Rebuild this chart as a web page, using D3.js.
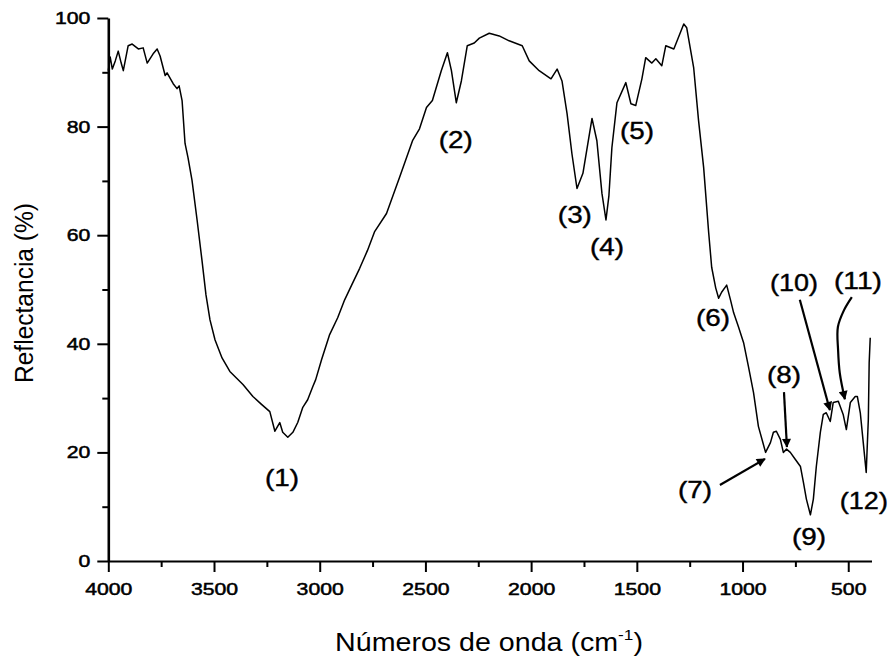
<!DOCTYPE html>
<html>
<head>
<meta charset="utf-8">
<script src="https://cdn.jsdelivr.net/npm/d3@7"></script>
<style>
  body { margin: 0; background: #fff; }
  svg text { font-family: "Liberation Sans", Arial, sans-serif; fill: #000; }
</style>
</head>
<body>
<svg id="chart" width="893" height="662"></svg>
<script>
// Spectre IR
const wavenumbers = [4000,3991,3981,3967,3953,3939,3929,3906,3887,3858,
    3835,3816,3788,3769,3755,3731,3722,3693,3675,3665,
    3651,3637,3623,3604,3580,3557,3538,3519,3495,3462,
    3425,3363,3316,3274,3236,3212,3189,3175,3151,3127,
    3104,3080,3057,3033,3019,2991,2953,2915,2882,2849,
    2811,2774,2741,2684,2623,2561,2528,2495,2467,2425,
    2396,2377,2354,2330,2302,2269,2245,2198,2151,2104,
    2042,2009,1962,1906,1877,1854,1830,1807,1783,1755,
    1712,1689,1665,1646,1632,1618,1594,1552,1528,1505,
    1476,1458,1429,1410,1382,1363,1325,1278,1264,1231,
    1208,1184,1160,1146,1127,1113,1099,1075,1057,1042,
    1019,995,972,948,925,891,868,854,840,821,
    807,792,774,750,726,712,698,679,665,651,
    632,618,604,585,571,547,524,509,490,467,
    457,443,429,415,405,401,396]
const reflectance = [90.3,92.8,90.6,92.1,93.9,91.7,90.3,94.9,95.2,94.3,
    94.5,91.7,93.4,94.3,93.0,89.4,89.9,87.9,87.0,87.5,
    84.8,76.9,74.3,70.1,62.8,55.4,49.0,44.4,40.7,37.4,
    34.9,32.5,30.3,28.8,27.5,23.9,25.5,23.7,22.8,23.7,
    25.5,28.3,29.7,32.1,33.4,37.1,41.7,44.8,48.1,50.8,
    53.9,57.2,60.6,64.0,70.6,77.4,79.6,83.5,84.8,90.3,
    93.6,90.3,84.4,88.4,94.9,95.4,96.3,97.2,96.7,95.8,
    94.9,92.1,90.3,88.8,90.6,88.4,82.4,75.0,68.6,71.4,
    81.5,77.4,67.7,62.8,67.3,76.1,84.4,88.1,84.2,83.9,
    88.8,92.7,91.7,92.5,91.2,94.9,94.3,98.9,98.2,90.8,
    81.1,72.5,60.4,54.1,50.3,48.4,49.5,50.8,48.1,45.7,
    43.1,40.2,35.8,31.0,24.8,20.0,21.8,23.7,23.9,22.4,
    20.0,20.6,20.0,18.7,17.4,14.5,11.4,8.5,11.4,17.4,
    23.7,27.0,27.3,25.7,29.2,29.4,27.0,24.2,29.2,30.3,
    30.3,27.3,21.8,16.3,26.1,36.5,41.1]

// Graduations
const xTicks = [4000, 3500, 3000, 2500, 2000, 1500, 1000, 500]
const xMinor = [3750, 3250, 2750, 2250, 1750, 1250, 750]
const yTicks = [0, 20, 40, 60, 80, 100]
const yMinor = [10, 30, 50, 70, 90]

// Etiquettes des bandes (position en cm-1 / %)
const peakNames = ["(1)", "(2)", "(3)", "(4)", "(5)", "(6)", "(7)", "(8)", "(9)", "(10)", "(11)", "(12)"]
const peakWn = [3178, 2356, 1793, 1641, 1499, 1140, 1225, 804, 686, 756, 454, 426]
const peakR = [14.9, 77.3, 63.4, 57.5, 78.8, 44.4, 12.7, 33.9, 4.1, 50.8, 51.2, 10.7]

// Flèches
const arrow7 = [[1107, 14.0], [894, 18.8]]
const arrow8 = [[804, 31.1], [790, 21.0]]
const arrow10 = [[729, 48.1], [587, 27.8]]
const arrow11 = [[483, 48.6], [520, 46.2], [549, 43.1], [548, 38.8], [540, 34.6], [516, 29.8]]

const svg = d3.select("#chart")

const x = d3.scaleLinear()
    .domain([4000, 390])
    .range([108.3, 871.5])
const y = d3.scaleLinear()
    .domain([0, 100])
    .range([561, 18])

const font = "Liberation Sans, Arial, sans-serif"

// fleche
svg.append("defs").append("marker")
    .attr("id", "head")
    .attr("viewBox", "0 0 10 10")
    .attr("refX", 9)
    .attr("refY", 5)
    .attr("markerUnits", "userSpaceOnUse")
    .attr("markerWidth", 13)
    .attr("markerHeight", 9)
    .attr("orient", "auto")
    .append("path")
    .attr("d", "M0,0 L10,5 L0,10 z")
    .attr("fill", "black")

// Axes : petites graduations
svg.append("g")
    .attr("transform", `translate(0,${y(0)})`)
    .call(d3.axisBottom(x).tickValues(xMinor).tickSize(6).tickSizeOuter(0).tickFormat(""))
    .call(g => g.select(".domain").remove())
    .selectAll("line").attr("stroke-width", 2)

svg.append("g")
    .attr("transform", `translate(${x(4000)},0)`)
    .call(d3.axisLeft(y).tickValues(yMinor).tickSize(6).tickSizeOuter(0).tickFormat(""))
    .call(g => g.select(".domain").remove())
    .selectAll("line").attr("stroke-width", 2)

// Axe X
const xAxis = svg.append("g")
    .attr("transform", `translate(0,${y(0)})`)
    .call(d3.axisBottom(x).tickValues(xTicks).tickSize(11).tickSizeOuter(0).tickPadding(11).tickFormat(d3.format("d")))
    .attr("font-size", 17)
    .attr("font-family", font)
xAxis.select(".domain").attr("stroke-width", 2.2)
xAxis.selectAll("line").attr("stroke-width", 2)
xAxis.selectAll("text")
    .attr("textLength", d => String(d).length * 11.8)
    .attr("lengthAdjust", "spacingAndGlyphs")
    .attr("stroke", "black")
    .attr("stroke-width", 0.5)

// Axe Y
const yAxis = svg.append("g")
    .attr("transform", `translate(${x(4000)},0)`)
    .call(d3.axisLeft(y).tickValues(yTicks).tickSize(11).tickSizeOuter(0).tickPadding(7).tickFormat(d3.format("d")))
    .attr("font-size", 17)
    .attr("font-family", font)
yAxis.select(".domain").attr("stroke-width", 2.6)
yAxis.selectAll("line").attr("stroke-width", 2)
yAxis.selectAll("text")
    .attr("textLength", d => String(d).length * 11.8)
    .attr("lengthAdjust", "spacingAndGlyphs")
    .attr("stroke", "black")
    .attr("stroke-width", 0.5)

// Titres des axes
const xTitle = svg.append("g")
const xText = xTitle.append("text")
    .attr("text-anchor", "middle")
    .attr("font-size", 25)
xText.append("tspan").text("Números de onda (cm")
xText.append("tspan").attr("font-size", 15).attr("dy", -11).text("-1")
xText.append("tspan").attr("dy", 11).text(")")
const xw = xText.node().getBBox().width
xTitle.attr("transform", `translate(489,651) scale(${308 / xw},1)`)

svg.append("text")
    .attr("transform", "translate(32.5,293) rotate(-90)")
    .attr("text-anchor", "middle")
    .attr("font-size", 25)
    .attr("textLength", 180)
    .attr("lengthAdjust", "spacingAndGlyphs")
    .text("Reflectancia (%)")

// Spectre
const line = d3.line()
    .x((d, i) => x(wavenumbers[i]))
    .y((d, i) => y(reflectance[i]))

svg.append("path")
    .datum(reflectance)
    .attr("d", line)
    .attr("fill", "none")
    .attr("stroke", "black")
    .attr("stroke-width", 1.5)
    .attr("stroke-linejoin", "round")

// Flèches
const arrowLine = d3.line()
    .x(d => x(d[0]))
    .y(d => y(d[1]))

const arrowLineCurved = d3.line()
    .x(d => x(d[0]))
    .y(d => y(d[1]))
    .curve(d3.curveCatmullRom)

;[arrow7, arrow8, arrow10].forEach(a => {
    svg.append("path")
        .attr("d", arrowLine(a))
        .attr("fill", "none")
        .attr("stroke", "black")
        .attr("stroke-width", 2.2)
        .attr("marker-end", "url(#head)")
})

svg.append("path")
    .attr("d", arrowLineCurved(arrow11))
    .attr("fill", "none")
    .attr("stroke", "black")
    .attr("stroke-width", 2.2)
    .attr("marker-end", "url(#head)")

// Etiquettes
svg.append("g")
    .selectAll("text")
    .data(peakNames)
    .enter()
    .append("text")
    .attr("x", (d, i) => x(peakWn[i]))
    .attr("y", (d, i) => y(peakR[i]))
    .attr("dy", "0.26em")
    .attr("text-anchor", "middle")
    .attr("font-size", 24)
    .attr("textLength", d => d.length == 3 ? 34 : 48)
    .attr("lengthAdjust", "spacingAndGlyphs")
    .attr("stroke", "black")
    .attr("stroke-width", 0.4)
    .text(d => d)
</script>
</body>
</html>
